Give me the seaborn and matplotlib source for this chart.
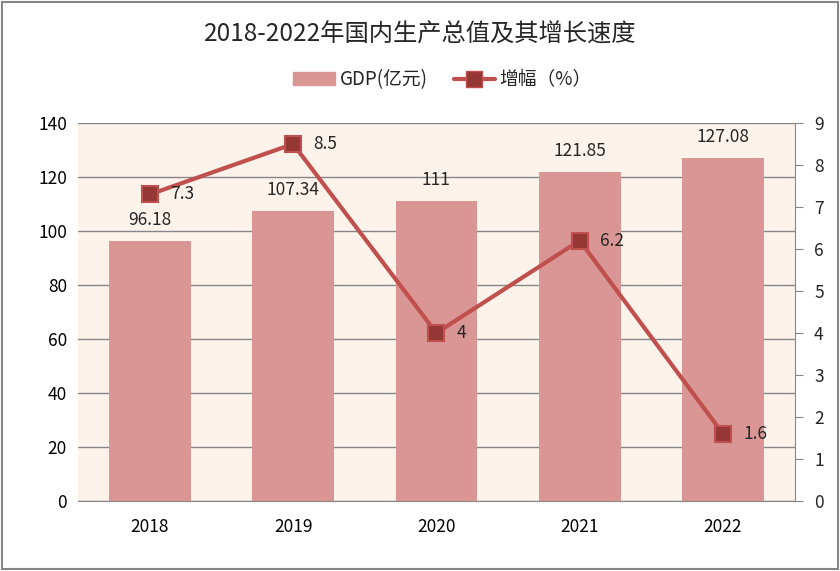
import numpy as np
import matplotlib
matplotlib.use("Agg")
import matplotlib.pyplot as plt
import seaborn as sns
from matplotlib.patches import Rectangle
from matplotlib.lines import Line2D

years = ["2018", "2019", "2020", "2021", "2022"]
gdp = [96.18, 107.34, 111, 121.85, 127.08]
growth = [7.3, 8.5, 4, 6.2, 1.6]
gdp_labels = ["96.18", "107.34", "111", "121.85", "127.08"]
growth_labels = ["7.3", "8.5", "4", "6.2", "1.6"]

sns.set_style("white")
plt.rcParams['font.family'] = ['Noto Sans CJK SC', 'DejaVu Sans']

bar_color = "#D99694"
line_color = "#C0504D"
marker_color = "#953735"
grid_color = "#868686"

fig = plt.figure(figsize=(8.4, 5.71), dpi=100)
fig.patches.append(Rectangle((0.002, 0.003), 0.996, 0.994, transform=fig.transFigure,
                             fill=False, edgecolor="#868686", linewidth=1.5))
ax = fig.add_axes([0.093, 0.1226, 0.853, 0.662])
ax.set_facecolor("#FDF3EB")

sns.barplot(x=years, y=gdp, color=bar_color, width=0.57, ax=ax, saturation=1, linewidth=0)
ax.set_ylim(0, 140)
ax.set_yticks(range(0, 141, 20))
ax.set_xlim(-0.5, 4.5)
ax.yaxis.grid(True, color=grid_color, linewidth=1)
ax.set_axisbelow(True)
for s in ["left", "top", "right"]:
    ax.spines[s].set_visible(False)
ax.spines["bottom"].set_color(grid_color)
ax.tick_params(axis="both", length=0, labelsize=12.5, colors="black", pad=8)
ax.tick_params(axis="x", pad=12)
ax.set_xlabel("")
ax.set_ylabel("")

for i, v in enumerate(gdp):
    ax.text(i, v + 4.5, gdp_labels[i], ha="center", va="bottom", fontsize=12.5)

ax2 = ax.twinx()
sns.lineplot(x=np.arange(len(years)), y=growth, ax=ax2, color=line_color, linewidth=3,
             marker="s", markersize=11, markerfacecolor=marker_color,
             markeredgecolor=line_color, markeredgewidth=1.5)
ax2.set_ylim(0, 9)
ax2.set_yticks(range(0, 10))
ax2.set_xlim(-0.5, 4.5)
for s in ["left", "top", "bottom"]:
    ax2.spines[s].set_visible(False)
ax2.spines["right"].set_color(grid_color)
ax2.tick_params(axis="y", length=6, color=grid_color, labelsize=12.5, pad=8)
for i, v in enumerate(growth):
    ax2.text(i + 0.14, v, growth_labels[i], ha="left", va="center", fontsize=12.5)

fig.text(0.5, 0.94, "2018-2022年国内生产总值及其增长速度", ha="center", va="center", fontsize=17.5)

handles = [Rectangle((0, 0), 1, 1, color=bar_color),
           Line2D([], [], color=line_color, linewidth=3, marker="s", markersize=11,
                  markerfacecolor=marker_color, markeredgecolor=line_color)]
fig.legend(handles, ["GDP(亿元)", "增幅（%）"], loc="center", bbox_to_anchor=(0.527, 0.86),
           ncol=2, frameon=False, fontsize=13.5, handlelength=2.2, columnspacing=1.4,
           handletextpad=0.25)

fig.savefig("out.png", dpi=100)
